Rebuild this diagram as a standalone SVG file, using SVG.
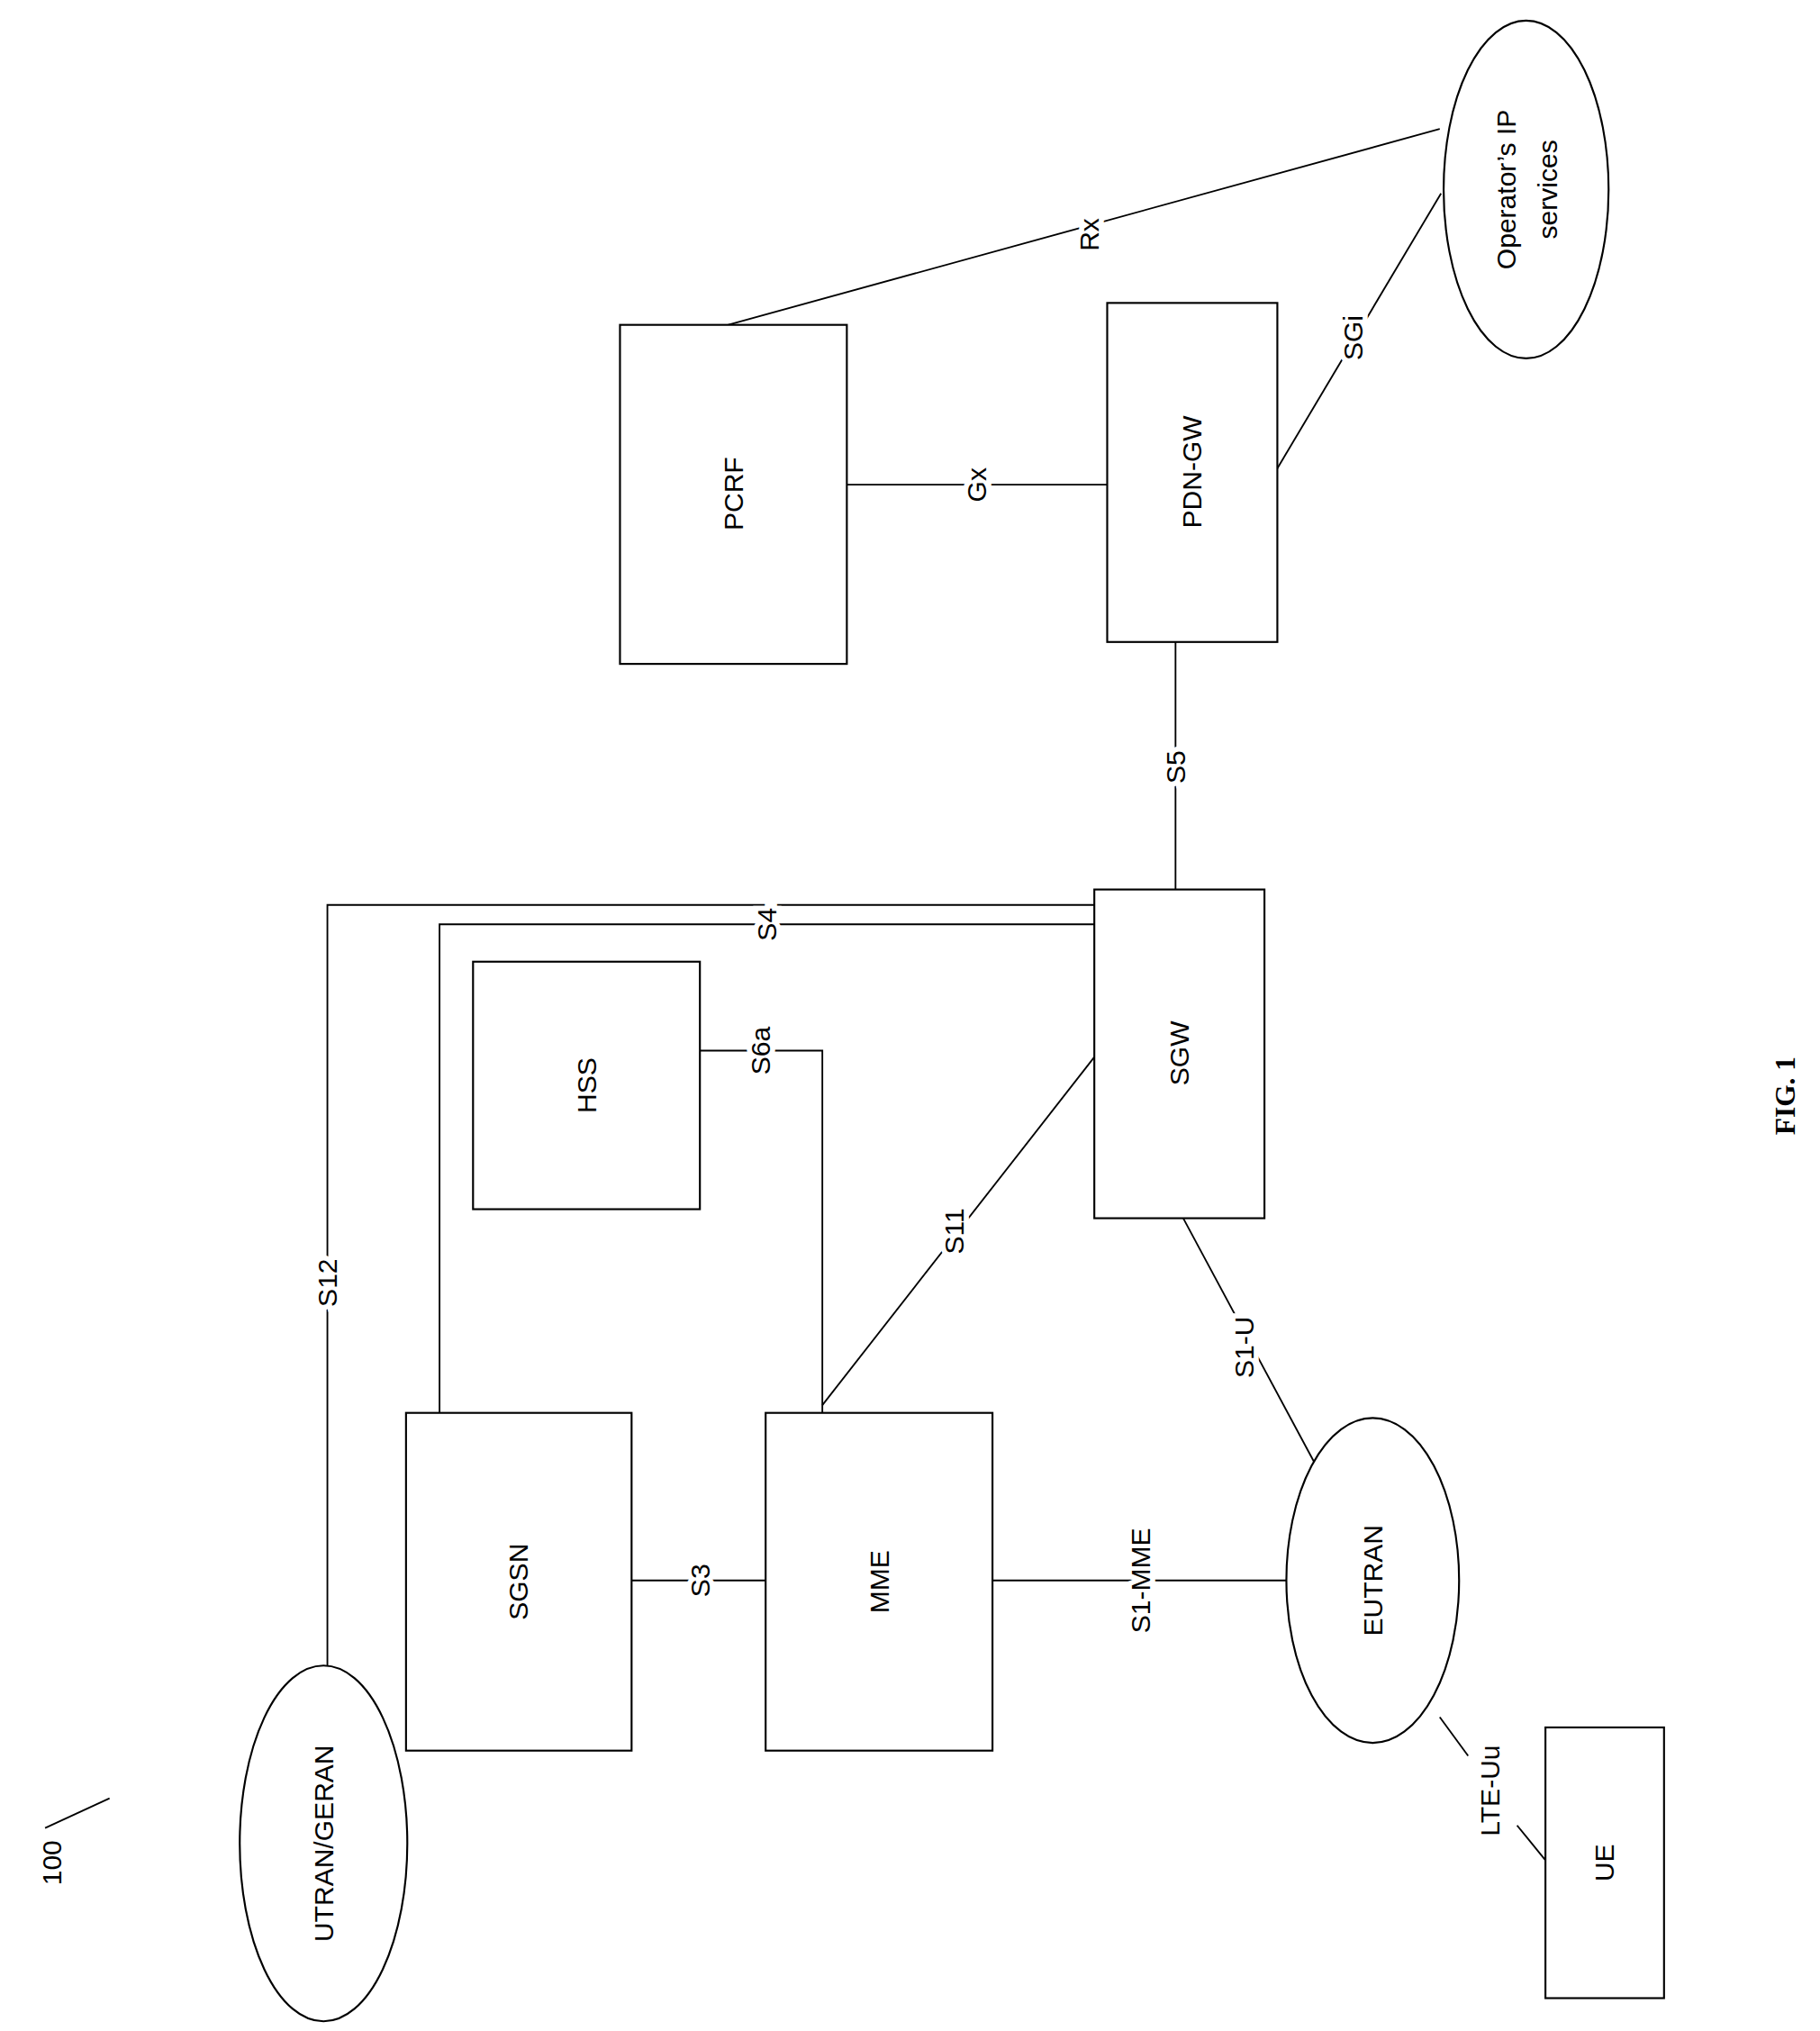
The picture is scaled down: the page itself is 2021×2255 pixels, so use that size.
<svg xmlns="http://www.w3.org/2000/svg" width="2021" height="2255" viewBox="0 0 2021 2255">
<style>
.n{fill:#fff;stroke:#000;stroke-width:1.5}
.c{fill:none;stroke:#000;stroke-width:1.3}
.t{font-family:"Liberation Sans",Arial,sans-serif;font-size:21px;text-anchor:middle;dominant-baseline:central}
.l{paint-order:stroke;stroke:#fff;stroke-width:8}
</style>
<rect width="2021" height="2255" fill="#fff"/>
<g transform="scale(1.4313)">
<g id="connectors">
<line class="c" x1="565" y1="252" x2="1117" y2="100"/>
<line class="c" x1="990" y1="365" x2="1118" y2="150"/>
<line class="c" x1="657" y1="376" x2="859" y2="376"/>
<line class="c" x1="912" y1="498" x2="912" y2="690"/>
<polyline class="c" points="254,1292 254,702 849,702"/>
<polyline class="c" points="341,1096 341,717 849,717"/>
<polyline class="c" points="543,815 638,815 638,1096"/>
<line class="c" x1="638" y1="1090" x2="849" y2="820"/>
<line class="c" x1="918" y1="945" x2="1020" y2="1135"/>
<line class="c" x1="490" y1="1226" x2="594" y2="1226"/>
<line class="c" x1="770" y1="1226" x2="998" y2="1226"/>
<line class="c" x1="1117" y1="1332" x2="1139" y2="1362"/>
<line class="c" x1="1177" y1="1416" x2="1199" y2="1443"/>
<line class="c" x1="35" y1="1418" x2="85" y2="1395"/>
<g class="t l">
<text transform="rotate(-90 845 182)" x="845" y="182">Rx</text>
<text transform="rotate(-90 1050 262)" x="1050" y="262">SGi</text>
<text transform="rotate(-90 758 376)" x="758" y="376">Gx</text>
<text transform="rotate(-90 912 595)" x="912" y="595">S5</text>
<text transform="rotate(-90 254 995)" x="254" y="995">S12</text>
<text transform="rotate(-90 595 717)" x="595" y="717">S4</text>
<text transform="rotate(-90 590 815)" x="590" y="815">S6a</text>
<text transform="rotate(-90 740 955)" x="740" y="955">S11</text>
<text transform="rotate(-90 965 1045)" x="965" y="1045">S1-U</text>
<text transform="rotate(-90 543 1226)" x="543" y="1226">S3</text>
<text transform="rotate(-90 885 1226)" x="885" y="1226">S1-MME</text>
<text transform="rotate(-90 1156 1389)" x="1156" y="1389">LTE-Uu</text>
</g>
</g>
<g id="pcrf"><rect class="n" x="481" y="252" width="176" height="263"/><text class="t" transform="rotate(-90 569 383)" x="569" y="383">PCRF</text></g>
<g id="pdngw"><rect class="n" x="859" y="235" width="132" height="263"/><text class="t" transform="rotate(-90 925 366)" x="925" y="366">PDN-GW</text></g>
<g id="ops"><ellipse class="n" cx="1184" cy="147" rx="64" ry="131"/><text class="t" transform="rotate(-90 1184 147)" x="1184" y="147"><tspan x="1184" dy="-16">Operator’s IP</tspan><tspan x="1184" dy="32">services</tspan></text></g>
<g id="sgw"><rect class="n" x="849" y="690" width="132" height="255"/><text class="t" transform="rotate(-90 915 817)" x="915" y="817">SGW</text></g>
<g id="hss"><rect class="n" x="367" y="746" width="176" height="192"/><text class="t" transform="rotate(-90 455 842)" x="455" y="842">HSS</text></g>
<g id="sgsn"><rect class="n" x="315" y="1096" width="175" height="262"/><text class="t" transform="rotate(-90 402 1227)" x="402" y="1227">SGSN</text></g>
<g id="mme"><rect class="n" x="594" y="1096" width="176" height="262"/><text class="t" transform="rotate(-90 682 1227)" x="682" y="1227">MME</text></g>
<g id="utran"><ellipse class="n" cx="251" cy="1430" rx="65" ry="138"/><text class="t" transform="rotate(-90 251 1430)" x="251" y="1430">UTRAN/GERAN</text></g>
<g id="eutran"><ellipse class="n" cx="1065" cy="1226" rx="67" ry="126"/><text class="t" transform="rotate(-90 1065 1226)" x="1065" y="1226">EUTRAN</text></g>
<g id="ue"><rect class="n" x="1199" y="1340" width="92" height="210"/><text class="t" transform="rotate(-90 1245 1445)" x="1245" y="1445">UE</text></g>
<text class="t" transform="rotate(-90 40 1445)" x="40" y="1445">100</text>
<text transform="rotate(-90 1385 850)" x="1385" y="850" style="font-family:'Liberation Serif',serif;font-weight:bold;font-size:22px;text-anchor:middle;dominant-baseline:central">FIG. 1</text>
</g>
</svg>
